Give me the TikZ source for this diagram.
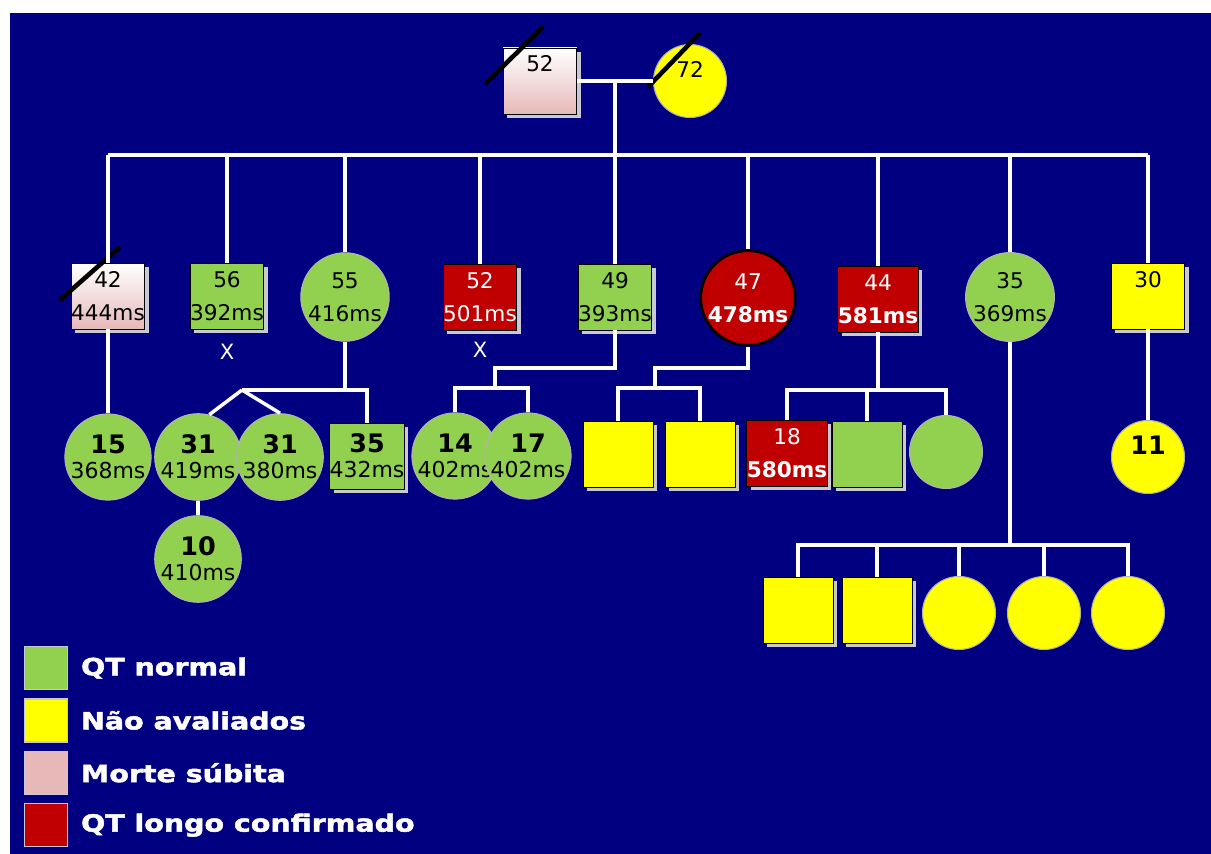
\documentclass[tikz,border=0pt]{standalone}
\usepackage{fontspec}
\setmainfont{DejaVu Sans}
\newfontfamily\legendfont[FakeStretch=1.2,BoldFeatures={FakeBold=2}]{DejaVu Sans}
\usetikzlibrary{positioning,calc,shadows}
\definecolor{navybg}{RGB}{0,0,128}
\definecolor{qtgreen}{RGB}{146,208,80}
\definecolor{qtyellow}{RGB}{255,255,0}
\definecolor{qtred}{RGB}{192,0,0}
\definecolor{qtpink}{RGB}{230,185,184}
\definecolor{shadowgray}{RGB}{200,200,215}
\newcommand{\agebig}[1]{{\fontsize{14.5}{15}\selectfont\bfseries #1}}
\newcommand{\msbig}[1]{{\fontsize{12.5}{13}\selectfont #1}}

\begin{document}
\begin{tikzpicture}[x=0.02cm,y=-0.02cm,font=\fontsize{12.3}{13}\selectfont]
  \tikzstyle{male}=[draw=black,line width=0.4pt,minimum width=1.4cm,minimum height=1.32cm,inner sep=0pt,align=center,drop shadow={shadow xshift=0.08cm,shadow yshift=-0.08cm,fill=shadowgray,opacity=1}]
  \tikzstyle{female}=[circle,draw=gray!60,line width=0.6pt,minimum size=1.46cm,inner sep=0pt,align=center]
  \tikzstyle{normal}=[fill=qtgreen]
  \tikzstyle{noteval}=[fill=qtyellow]
  \tikzstyle{longqt}=[fill=qtred,text=white]
  \tikzstyle{sudden}=[top color=white,bottom color=qtpink]
  \tikzstyle{slash}=[line width=2.6pt,black]
  \tikzstyle{line}=[draw=white,line width=2pt]
  \tikzstyle{xmark}=[text=white,font=\fontsize{12}{13}\selectfont]
  \tikzstyle{legbox}=[draw=shadowgray,line width=0.8pt,minimum size=0.86cm,inner sep=0pt]
  \tikzstyle{legtext}=[text=white,font=\legendfont\fontsize{13.5}{15}\selectfont\bfseries,inner sep=0pt]
  % page and background
  \useasboundingbox (0,0) rectangle (1211,854);
  \fill[white] (0,0) rectangle (1211,854);
  \fill[navybg] (10,13) rectangle (1211,854);
  % Generation I
  \node[male,sudden] (g52) at (540,81) {52\\[7pt]\phantom{000ms}};
  \node[female,noteval] (g72) at (690,81) {72\\\phantom{0}};
  \draw[slash] ($(g52)+(-55,3)$) -- ($(g52)+(3,-54)$);
  \draw[slash] ($(g72)+(-42,6)$) -- ($(g72)+(10,-48)$);
  \coordinate (m1) at (615,81);
  \coordinate (s1) at (615,155);
  \draw[line] (g52.east) -- (g72.west);
  \draw[line] (m1) -- (s1);
  % Generation II
  \node[male,sudden] (c42) at (108,296) {42\\[6pt]444ms};
  \node[male,normal] (c56) at (227,296) {56\\[6pt]392ms};
  \node[female,normal] (c55) at (345,297) {55\\[6pt]416ms};
  \node[male,longqt] (c52) at (480,297) {52\\[6pt]501ms};
  \node[male,normal] (c49) at (615,297) {49\\[6pt]393ms};
  \node[female,longqt,draw=black,line width=1.5pt] (c47) at (748,298) {47\\[6pt]\textbf{478ms}};
  \node[male,longqt] (c44) at (878,299) {44\\[6pt]\textbf{581ms}};
  \node[female,normal] (c35) at (1010,297) {35\\[6pt]369ms};
  \node[male,noteval] (c30) at (1148,296) {30\\[6pt]\phantom{000ms}};
  \draw[slash] ($(c42)+(-48,4)$) -- ($(c42)+(12,-49)$);
  \node[xmark] (x56) at (227,352) {X};
  \node[xmark] (x52) at (480,350) {X};
  \draw[line] (s1 -| c42) -- (s1 -| c30);
  \foreach \n in {c42,c56,c55,c52,c49,c47,c44,c35,c30}
    \draw[line] (\n.north) -- (\n.north |- s1);
  % Generation III
  \node[female,normal] (c15) at (108,457) {\agebig{15}\\[1pt]\msbig{368ms}};
  \node[female,normal] (c31a) at (198,457) {\agebig{31}\\[1pt]\msbig{419ms}};
  \node[female,normal] (c31b) at (280,457) {\agebig{31}\\[1pt]\msbig{380ms}};
  \node[male,normal] (c35b) at (367,456) {\agebig{35}\\[1pt]\msbig{432ms}};
  \node[female,normal] (c10) at (198,559) {\agebig{10}\\[1pt]\msbig{410ms}};
  \node[female,normal] (c14) at (455,456) {\agebig{14}\\[1pt]\msbig{402ms}};
  \node[female,normal] (c17) at (528,456) {\agebig{17}\\[1pt]\msbig{402ms}};
  \node[male,noteval] (y1) at (618,454) {};
  \node[male,noteval] (y2) at (700,454) {};
  \node[male,longqt] (c18) at (787,453) {18\\[6pt]\textbf{580ms}};
  \node[male,normal] (g1) at (867,454) {};
  \node[female,normal] (g2) at (946,452) {};
  \node[female,noteval] (c11) at (1148,457) {\agebig{11}\\\phantom{0}};
  \coordinate (j55) at (345,390);
  \coordinate (tw) at (242,390);
  \coordinate (j49) at (615,368);
  \coordinate (s49) at (495,388);
  \coordinate (j47) at (748,368);
  \coordinate (s47) at (655,388);
  \coordinate (j44) at (878,390);
  \draw[line] (c42.south) -- (c15.north);
  \draw[line] (c55.south) -- (j55);
  \draw[line] (tw) -- (j55 -| c35b) -- (c35b.north);
  \draw[line] (tw) -- (c31a.75);
  \draw[line] (tw) -- (c31b.north);
  \draw[line] (c31a.south) -- (c10.north);
  \draw[line] (c49.south) -- (j49) -- (j49 -| s49) -- (s49);
  \draw[line] (c14.north) -- (c14.north |- s49) -- (c17.north |- s49) -- (c17.north);
  \draw[line] (c47.south) -- (j47) -- (j47 -| s47) -- (s47);
  \draw[line] (y1.north) -- (y1.north |- s47) -- (y2.north |- s47) -- (y2.north);
  \draw[line] (c44.south) -- (j44);
  \draw[line] (c18.north) -- (c18.north |- j44) -- (g2.north |- j44) -- (g2.north);
  \draw[line] (g1.north) -- (g1.north |- j44);
  \draw[line] (c30.south) -- (c11.north);
  % Generation IV
  \node[male,noteval] (y3) at (798,610) {};
  \node[male,noteval] (y4) at (877,610) {};
  \node[female,noteval] (y5) at (959,613) {};
  \node[female,noteval] (y6) at (1044,613) {};
  \node[female,noteval] (y7) at (1128,613) {};
  \coordinate (j35) at (1010,545);
  \draw[line] (c35.south) -- (j35);
  \draw[line] (y3.north) -- (y3.north |- j35) -- (y7.north |- j35) -- (y7.north);
  \foreach \n in {y4,y5,y6}
    \draw[line] (\n.north) -- (\n.north |- j35);
  % Legend
  \node[legbox,normal] (lg1) at (46,668) {};
  \node[legbox,noteval,below=0.16cm of lg1] (lg2) {};
  \node[legbox,fill=qtpink,below=0.16cm of lg2] (lg3) {};
  \node[legbox,fill=qtred,below=0.16cm of lg3] (lg4) {};
  \node[legtext,right=0.25cm of lg1] (lt1) {QT normal};
  \node[legtext,right=0.25cm of lg2] (lt2) {Não avaliados};
  \node[legtext,right=0.25cm of lg3] (lt3) {Morte súbita};
  \node[legtext,right=0.25cm of lg4] (lt4) {QT longo confirmado};
\end{tikzpicture}
\end{document}
